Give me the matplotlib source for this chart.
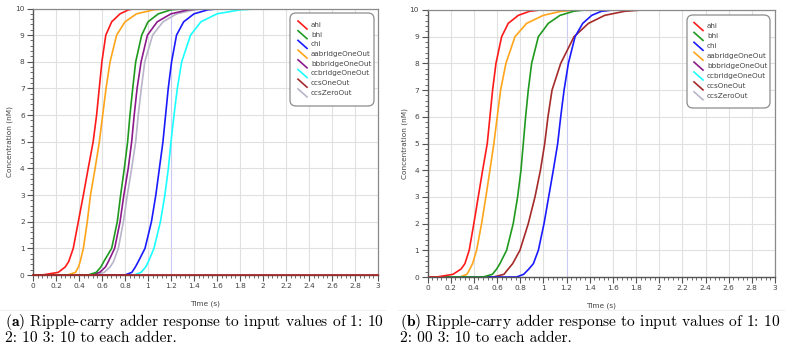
import matplotlib
matplotlib.use("Agg")
import matplotlib.pyplot as plt
from matplotlib.patches import FancyBboxPatch
from matplotlib.lines import Line2D
from matplotlib.ticker import MultipleLocator, FuncFormatter

plt.rcParams['mathtext.fontset'] = 'cm'

# ---------------- data ----------------
series_names = ["ahi", "bhi", "chi", "aabridgeOneOut", "bbbridgeOneOut",
                "ccbridgeOneOut", "ccsOneOut", "ccsZeroOut"]
series_colors = ["#ff1a1a", "#1f9a1f", "#1a1aff", "#ffa51a", "#8b1a8b",
                 "#1affff", "#a52a2a", "#b9b4c9"]

# concentration levels (nM) at which the crossing times below were read
levels = [0, 0, 0.1, 0.3, 0.5, 1, 2, 3, 4, 5, 6, 7, 8, 9, 9.5, 9.8, 9.95, 10, 10]

# panel (a): inputs 1: 10, 2: 10, 3: 10  -- time (s) for each level
a_ahi  = [0, 0.08, 0.22, 0.28, 0.31, 0.35, 0.394, 0.438, 0.48, 0.523, 0.553, 0.576, 0.599, 0.633, 0.684, 0.757, 0.83, 0.9, 3]
a_bhi  = [0, 0.48, 0.55, 0.59, 0.615, 0.684, 0.733, 0.762, 0.794, 0.823, 0.843, 0.867, 0.893, 0.945, 1.0, 1.09, 1.2, 1.35, 3]
a_chi  = [0, 0.80, 0.86, 0.89, 0.915, 0.974, 1.03, 1.068, 1.099, 1.13, 1.153, 1.176, 1.205, 1.248, 1.31, 1.40, 1.52, 1.65, 3]
a_aab  = [0, 0.30, 0.37, 0.395, 0.41, 0.438, 0.472, 0.50, 0.54, 0.577, 0.606, 0.635, 0.67, 0.727, 0.80, 0.90, 1.05, 1.2, 3]
a_bbb  = [0, 0.50, 0.58, 0.63, 0.655, 0.71, 0.757, 0.79, 0.828, 0.858, 0.88, 0.905, 0.94, 0.995, 1.08, 1.2, 1.35, 1.5, 3]
a_ccb  = [0, 0.88, 0.94, 0.98, 1.003, 1.052, 1.108, 1.147, 1.177, 1.2, 1.226, 1.255, 1.293, 1.37, 1.46, 1.6, 1.8, 2.0, 3]
a_cs1_t = [0, 3]
a_cs1_c = [0, 0]
a_cs0  = [0, 0.52, 0.62, 0.67, 0.70, 0.742, 0.786, 0.82, 0.858, 0.893, 0.915, 0.942, 0.972, 1.04, 1.13, 1.25, 1.4, 1.55, 3]

# panel (b): inputs 1: 10, 2: 00, 3: 10
b_ahi  = [0, 0.08, 0.22, 0.29, 0.323, 0.36, 0.40, 0.438, 0.476, 0.516, 0.539, 0.562, 0.591, 0.64, 0.697, 0.784, 0.88, 0.97, 3]
b_bhi  = [0, 0.48, 0.56, 0.597, 0.625, 0.683, 0.74, 0.778, 0.807, 0.827, 0.847, 0.87, 0.899, 0.957, 1.043, 1.144, 1.26, 1.35, 3]
b_chi  = [0, 0.77, 0.83, 0.875, 0.914, 0.957, 1.006, 1.046, 1.086, 1.124, 1.15, 1.179, 1.216, 1.274, 1.34, 1.418, 1.5, 1.6, 3]
b_aab  = [0, 0.28, 0.34, 0.366, 0.389, 0.424, 0.467, 0.504, 0.539, 0.573, 0.602, 0.631, 0.677, 0.755, 0.856, 1.0, 1.15, 1.3, 3]
b_zero_t = [0, 3]
b_zero_c = [0, 0]
b_cs1  = [0, 0.57, 0.66, 0.697, 0.735, 0.798, 0.87, 0.928, 0.975, 1.012, 1.04, 1.075, 1.15, 1.265, 1.39, 1.53, 1.7, 1.85, 3]

x_ticks = [0, 0.2, 0.4, 0.6, 0.8, 1, 1.2, 1.4, 1.6, 1.8, 2, 2.2, 2.4, 2.6, 2.8, 3]
y_ticks = [0, 1, 2, 3, 4, 5, 6, 7, 8, 9, 10]

caption_a = ["$\\mathbf{(a)}$ Ripple-carry adder response to input values of 1: 10",
             "2: 10 3: 10 to each adder."]
caption_b = ["$\\mathbf{(b)}$ Ripple-carry adder response to input values of 1: 10",
             "2: 00 3: 10 to each adder."]

# ---------------- figure ----------------
W, H = 785, 350
fig = plt.figure(figsize=(W / 100, H / 100), dpi=100)
fig.patch.set_facecolor("white")


def px_axes(x0, y0, x1, y1):
    return fig.add_axes([x0 / W, 1 - y1 / H, (x1 - x0) / W, (y1 - y0) / H])


def fmt(v, pos):
    return "%g" % v


def style_axes(ax):
    ax.set_xlim(0, 3)
    ax.set_ylim(0, 10)
    ax.set_xticks(x_ticks)
    ax.set_yticks(y_ticks)
    ax.xaxis.set_major_formatter(FuncFormatter(fmt))
    ax.xaxis.set_minor_locator(MultipleLocator(0.04))
    ax.yaxis.set_minor_locator(MultipleLocator(0.2))
    ax.tick_params(which="major", direction="out", length=4, width=0.8,
                   color="#555555", labelsize=5.3, labelcolor="#444444", pad=2)
    ax.tick_params(which="minor", direction="out", length=2.5, width=0.6,
                   color="#555555")
    ax.grid(True, which="major", color="#e0e0e0", lw=0.8)
    for gl, t in zip(ax.get_xgridlines(), x_ticks):
        if abs(t - 1.2) < 1e-9:
            gl.set_color("#c9c9f2")
    for side in ["left", "bottom"]:
        ax.spines[side].set_color("#555555")
        ax.spines[side].set_linewidth(1.0)
        ax.spines[side].set_zorder(2.5)
    for side in ["top", "right"]:
        ax.spines[side].set_color("#8a8a8a")
        ax.spines[side].set_linewidth(0.9)
    ax.set_xlabel("Time (s)", fontsize=5.3, color="#444444", labelpad=8)
    ax.set_ylabel("Concentration (nM)", fontsize=5.3, color="#444444", labelpad=1.5)


def legend_box(x0, y0, x1, y1, first_y, step, sample_x0, text_x):
    # drawn in figure pixel coordinates (y measured from the top)
    tr = fig.dpi_scale_trans
    box = FancyBboxPatch(((x0) / 100, (H - y1) / 100), (x1 - x0) / 100, (y1 - y0) / 100,
                         boxstyle="round,pad=0,rounding_size=0.06",
                         transform=tr, facecolor="white", edgecolor="#8c8c8c",
                         lw=0.9, zorder=10)
    fig.add_artist(box)
    for i, (name, col) in enumerate(zip(series_names, series_colors)):
        yc = first_y + i * step
        ln = Line2D([sample_x0 / 100, (sample_x0 + 9) / 100],
                    [(H - yc + 4) / 100, (H - yc - 4) / 100],
                    transform=tr, color=col, lw=1.2, zorder=11)
        fig.add_artist(ln)
        fig.text(text_x / W, 1 - yc / H, name, fontsize=5.2, color="#444444",
                 va="center", ha="left", zorder=12)


# ----- panel (a)
ax1 = px_axes(33, 8.5, 378, 275)
style_axes(ax1)
a_curves = [a_ahi, a_bhi, a_chi, a_aab, a_bbb, a_ccb, None, a_cs0]
for name, col, tt in reversed(list(zip(series_names, series_colors, a_curves))):
    if tt is None:
        continue
    ax1.plot(tt, levels, color=col, lw=1.2, zorder=2)
ax1.plot(a_cs1_t, a_cs1_c, color=series_colors[6], lw=1.3, zorder=3, clip_on=False)
legend_box(290, 13, 374, 106, 25, 9.7, 298, 311)

# ----- panel (b)
ax2 = px_axes(427.5, 10, 775, 277)
style_axes(ax2)
for col in [series_colors[4], series_colors[5], series_colors[7]]:
    ax2.plot(b_zero_t, b_zero_c, color=col, lw=0.4, zorder=1.5)
b_curves = [b_ahi, b_bhi, b_chi, b_aab, b_cs1]
b_cols = [series_colors[0], series_colors[1], series_colors[2], series_colors[3], series_colors[6]]
for col, tt in reversed(list(zip(b_cols, b_curves))):
    ax2.plot(tt, levels, color=col, lw=1.2, zorder=2)
legend_box(687, 15, 770, 108, 26.5, 9.9, 694, 707)

# faint pane border lines
for xa, xb in [(0, 385), (398, 785)]:
    fig.add_artist(Line2D([xa / W, xb / W], [1 - 310 / H, 1 - 310 / H],
                          transform=fig.transFigure, color="#ececec", lw=0.6))

# ----- captions
for lines, x0 in [(caption_a, 5), (caption_b, 400)]:
    for j, s in enumerate(lines):
        fig.text(x0 / W, 1 - (322 + j * 16) / H, s, fontsize=11.2,
                 family="cmr10", va="center", ha="left", color="black")

fig.savefig("out.png", dpi=100, facecolor="white")
